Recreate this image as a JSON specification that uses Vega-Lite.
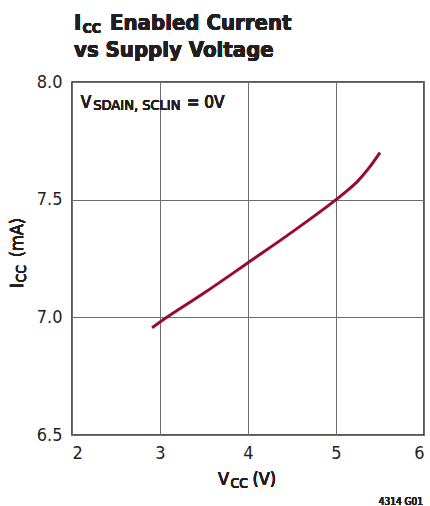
{
  "$schema": "https://vega.github.io/schema/vega-lite/v6.json",
  "autosize": {"type": "none"},
  "padding": {"left": 72, "top": 82, "right": 6, "bottom": 71},
  "width": 352,
  "height": 353,
  "background": "white",
  "config": {
    "view": {"stroke": "#231f20", "strokeWidth": 1.5},
    "font": "DejaVu Sans Condensed, Liberation Sans, sans-serif",
    "text": {"font": "DejaVu Sans Condensed, Liberation Sans, sans-serif", "color": "#231f20", "align": "left", "baseline": "alphabetic"},
    "axis": {
      "domain": false,
      "ticks": false,
      "grid": true,
      "gridColor": "#6d6d6d",
      "gridWidth": 1,
      "labelFont": "DejaVu Sans Condensed, Liberation Sans, sans-serif",
      "labelFontSize": 18,
      "labelColor": "#231f20",
      "title": null
    }
  },
  "data": {
    "values": [
      {"vcc": 2.91, "icc": 6.956},
      {"vcc": 3.0, "icc": 6.98},
      {"vcc": 3.5, "icc": 7.103},
      {"vcc": 4.0, "icc": 7.232},
      {"vcc": 4.5, "icc": 7.362},
      {"vcc": 5.0, "icc": 7.5},
      {"vcc": 5.1, "icc": 7.53},
      {"vcc": 5.25, "icc": 7.58},
      {"vcc": 5.375, "icc": 7.635},
      {"vcc": 5.5, "icc": 7.7}
    ]
  },
  "layer": [
    {
      "mark": {"type": "line", "color": "#9a0a2f", "strokeWidth": 3, "interpolate": "monotone"},
      "encoding": {
        "x": {"field": "vcc", "type": "quantitative",
              "scale": {"domain": [2, 6], "nice": false},
              "axis": {"values": [2, 3, 4, 5, 6], "labelPadding": 9, "format": "d"}},
        "y": {"field": "icc", "type": "quantitative",
              "scale": {"domain": [6.5, 8.0], "nice": false, "zero": false},
              "axis": {"values": [6.5, 7.0, 7.5, 8.0], "format": ".1f", "labelPadding": 10}}
      }
    },
    {
      "mark": {"type": "text", "fontSize": 22, "fontWeight": "bold"},
      "encoding": {"x": {"datum": 2.0227}, "y": {"datum": 8.221}, "text": {"value": "I"}}
    },
    {
      "mark": {"type": "text", "fontSize": 14, "fontWeight": "bold"},
      "encoding": {"x": {"datum": 2.1193}, "y": {"datum": 8.2082}, "text": {"value": "CC"}}
    },
    {
      "mark": {"type": "text", "fontSize": 22, "fontWeight": "bold"},
      "encoding": {"x": {"datum": 2.4318}, "y": {"datum": 8.221}, "text": {"value": "Enabled Current"}}
    },
    {
      "mark": {"type": "text", "fontSize": 22, "fontWeight": "bold"},
      "encoding": {"x": {"datum": 2.0227}, "y": {"datum": 8.1062}, "text": {"value": "vs Supply Voltage"}}
    },
    {
      "mark": {"type": "text", "fontSize": 17},
      "encoding": {"x": {"datum": 2.0989}, "y": {"datum": 7.8908}, "text": {"value": "V"}}
    },
    {
      "mark": {"type": "text", "fontSize": 14.5},
      "encoding": {"x": {"datum": 2.242}, "y": {"datum": 7.881}, "text": {"value": "SDAIN, SCLIN"}}
    },
    {
      "mark": {"type": "text", "fontSize": 17},
      "encoding": {"x": {"datum": 3.3034}, "y": {"datum": 7.8908}, "text": {"value": "= 0V"}}
    },
    {
      "mark": {"type": "text", "fontSize": 18},
      "encoding": {"x": {"datum": 3.6591}, "y": {"datum": 6.2875}, "text": {"value": "V"}}
    },
    {
      "mark": {"type": "text", "fontSize": 14},
      "encoding": {"x": {"datum": 3.8011}, "y": {"datum": 6.2747}, "text": {"value": "CC"}}
    },
    {
      "mark": {"type": "text", "fontSize": 18},
      "encoding": {"x": {"datum": 4.05}, "y": {"datum": 6.2875}, "text": {"value": "(V)"}}
    },
    {
      "mark": {"type": "text", "fontSize": 18, "angle": 270},
      "encoding": {"x": {"datum": 1.4432}, "y": {"datum": 7.1246}, "text": {"value": "I"}}
    },
    {
      "mark": {"type": "text", "fontSize": 14, "angle": 270},
      "encoding": {"x": {"datum": 1.4773}, "y": {"datum": 7.148}, "text": {"value": "CC"}}
    },
    {
      "mark": {"type": "text", "fontSize": 18, "angle": 270},
      "encoding": {"x": {"datum": 1.4432}, "y": {"datum": 7.255}, "text": {"value": "(mA)"}}
    },
    {
      "mark": {"type": "text", "fontSize": 10, "align": "right"},
      "encoding": {"x": {"datum": 5.9886}, "y": {"datum": 6.2025}, "text": {"value": "4314 G01"}}
    }
  ]
}
